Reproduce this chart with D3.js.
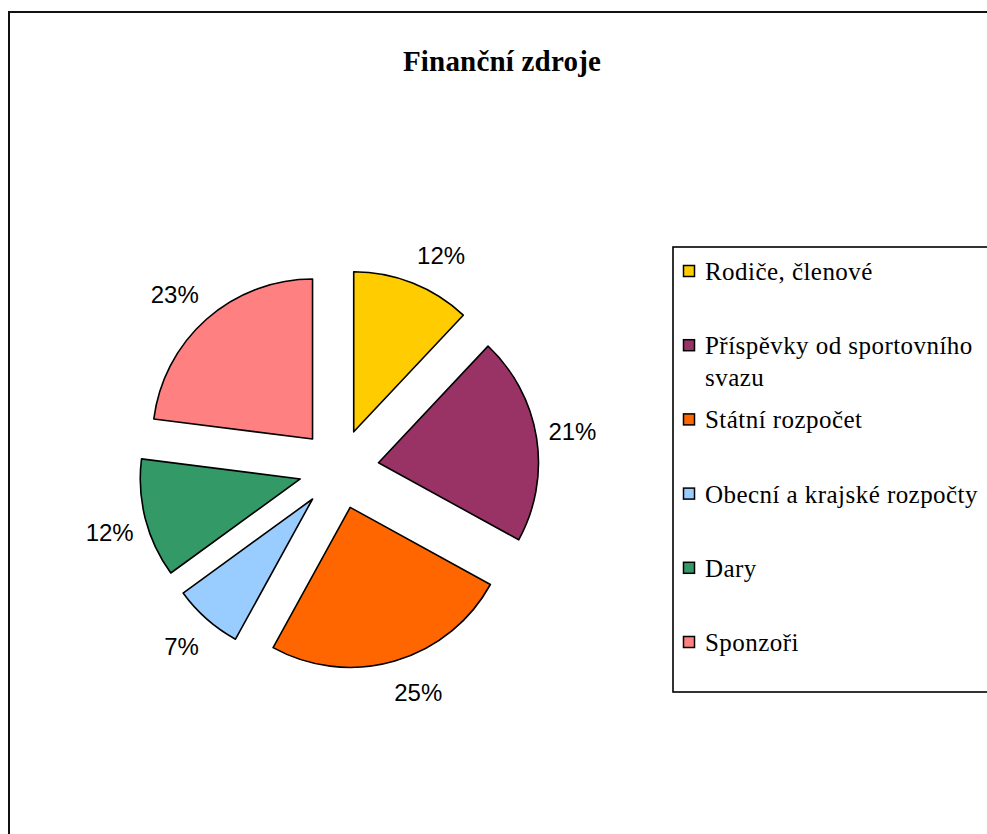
<!DOCTYPE html>
<html>
<head>
<meta charset="utf-8">
<script src="https://cdn.jsdelivr.net/npm/d3@7"></script>
<style>
  html, body { margin: 0; padding: 0; background: #fff; }
  svg { display: block; }
</style>
</head>
<body>
<svg id="chart" width="987" height="834"></svg>
<script>
const title = "Finanční zdroje";
const categories = ["Rodiče, členové", "Příspěvky od sportovního svazu", "Státní rozpočet", "Obecní a krajské rozpočty", "Dary", "Sponzoři"];
const values = [12, 21, 25, 7, 12, 23];
const colors = ["#FFCC00", "#993366", "#FF6600", "#99CCFF", "#339966", "#FF8080"];

const svg = d3.select("#chart");

// outer chart frame
svg.append("rect")
  .attr("x", 9).attr("y", 12).attr("width", 1100).attr("height", 1000)
  .attr("fill", "#fff").attr("stroke", "#111").attr("stroke-width", 2);

// title
svg.append("text")
  .attr("x", 502).attr("y", 71)
  .attr("text-anchor", "middle")
  .attr("font-family", "'Liberation Serif', 'Times New Roman', serif")
  .attr("font-weight", "bold")
  .attr("font-size", 29)
  .attr("letter-spacing", 0.2)
  .text(title);

// pie
const cx = 339, cy = 469, R = 160, explode = 40;
const total = d3.sum(values);
const pie = d3.pie().sort(null).value(d => d);
const arcs = pie(values);
const arc = d3.arc().innerRadius(0).outerRadius(R);

const g = svg.append("g").attr("transform", `translate(${cx},${cy})`);

g.selectAll("path.slice")
  .data(arcs)
  .enter().append("path")
  .attr("class", "slice")
  .attr("d", arc)
  .attr("fill", (d, i) => colors[i])
  .attr("stroke", "#000")
  .attr("stroke-width", 1.6)
  .attr("stroke-linejoin", "round")
  .attr("transform", d => {
    const m = (d.startAngle + d.endAngle) / 2;
    return `translate(${explode * Math.sin(m)},${-explode * Math.cos(m)})`;
  });

// data labels
const fmt = v => Math.round(v / total * 100) + "%";
const clamp = v => Math.max(-1, Math.min(1, v));
const labelH = 24;
g.selectAll("text.lbl")
  .data(arcs)
  .enter().append("text")
  .attr("class", "lbl")
  .attr("font-family", "'Liberation Sans', Arial, sans-serif")
  .attr("font-size", 24)
  .attr("fill", "#000")
  .attr("text-anchor", "middle")
  .text(d => fmt(d.value))
  .each(function(d) {
    const m = (d.startAngle + d.endAngle) / 2;
    const dx = Math.sin(m), dy = -Math.cos(m);
    const w = this.getComputedTextLength();
    const x = (R + explode + 12) * dx + (w / 2) * clamp(3 * dx);
    const y = (R + explode + 17) * dy + (labelH / 2) * clamp(2.2 * dy) + (dy > 0 ? 3 : 0);
    d3.select(this).attr("x", x).attr("y", y + 8.6);
  });

// legend
const lgX = 673, lgY = 247, lgH = 445;
svg.append("rect")
  .attr("x", lgX).attr("y", lgY).attr("width", 400).attr("height", lgH)
  .attr("fill", "#fff").attr("stroke", "#000").attr("stroke-width", 1.6);

const rowStep = 74.2, firstRow = lgY + 25, lineH = 31.5, maxTextW = 282;
const lg = svg.append("g");
categories.forEach((c, i) => {
  const yc = firstRow + i * rowStep;
  lg.append("rect")
    .attr("x", 683.5).attr("y", yc - 6.5).attr("width", 11).attr("height", 11)
    .attr("fill", colors[i]).attr("stroke", "#000").attr("stroke-width", 1.5);
  const t = lg.append("text")
    .attr("x", 705).attr("y", yc + 8)
    .attr("font-family", "'Liberation Serif', 'Times New Roman', serif")
    .attr("font-size", 25)
    .attr("letter-spacing", 0.45)
    .attr("fill", "#000");
  const words = c.split(" ");
  let line = [];
  let tspan = t.append("tspan").attr("x", 705).attr("dy", 0);
  words.forEach(wd => {
    line.push(wd);
    tspan.text(line.join(" "));
    if (tspan.node().getComputedTextLength() > maxTextW && line.length > 1) {
      line.pop();
      tspan.text(line.join(" "));
      line = [wd];
      tspan = t.append("tspan").attr("x", 705).attr("dy", lineH).text(wd);
    }
  });
});
</script>
</body>
</html>
